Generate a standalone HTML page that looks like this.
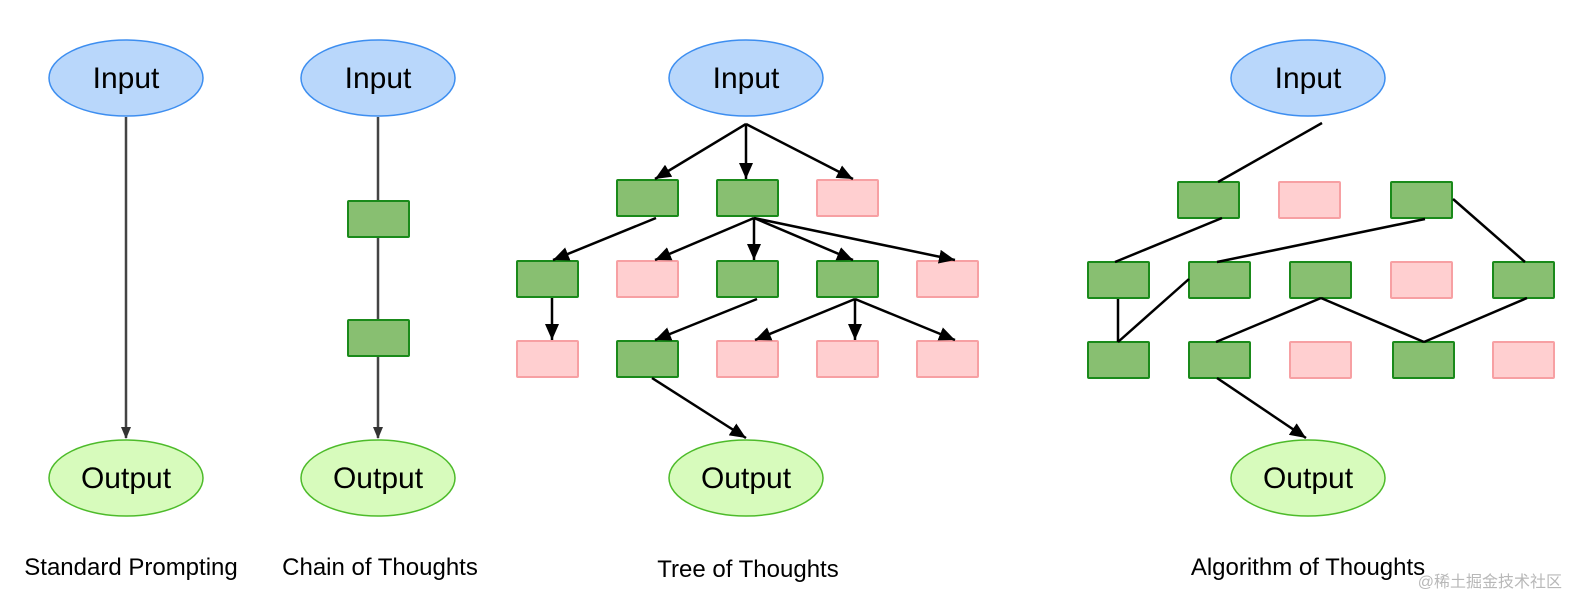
<!DOCTYPE html>
<html><head><meta charset="utf-8"><style>
body{margin:0;background:#fff;width:1582px;height:602px;overflow:hidden}
text{font-family:"Liberation Sans","Noto Sans CJK SC",sans-serif}
</style></head><body>
<svg width="1582" height="602" viewBox="0 0 1582 602" xmlns="http://www.w3.org/2000/svg">
<defs>
<marker id="g" markerWidth="12" markerHeight="12" refX="11" refY="6" orient="auto" markerUnits="userSpaceOnUse" viewBox="0 0 12 12"><path d="M0,1 L12,6 L0,11 z" fill="#333"/></marker>
<marker id="b" markerWidth="16" markerHeight="14" refX="16" refY="7" orient="auto" markerUnits="userSpaceOnUse" viewBox="0 0 16 14"><path d="M0,0 L16,7 L0,14 z" fill="#000"/></marker>
</defs>
<g fill="#b9d7fb" stroke="#3d8ef0" stroke-width="1.5">
<ellipse cx="126" cy="78" rx="77" ry="38"/><ellipse cx="378" cy="78" rx="77" ry="38"/>
<ellipse cx="746" cy="78" rx="77" ry="38"/><ellipse cx="1308" cy="78" rx="77" ry="38"/>
</g>
<g fill="#d7fbbc" stroke="#4dbb2a" stroke-width="1.5">
<ellipse cx="126" cy="478" rx="77" ry="38"/><ellipse cx="378" cy="478" rx="77" ry="38"/>
<ellipse cx="746" cy="478" rx="77" ry="38"/><ellipse cx="1308" cy="478" rx="77" ry="38"/>
</g>
<g font-size="30" text-anchor="middle" fill="#000">
<text x="126" y="88">Input</text><text x="378" y="88">Input</text><text x="746" y="88">Input</text><text x="1308" y="88">Input</text>
<text x="126" y="488">Output</text><text x="378" y="488">Output</text><text x="746" y="488">Output</text><text x="1308" y="488">Output</text>
</g>
<g stroke="#444" stroke-width="2.5" fill="none">
<line x1="126" y1="117" x2="126" y2="438" marker-end="url(#g)"/>
<line x1="378" y1="117" x2="378" y2="201"/><line x1="378" y1="237" x2="378" y2="320"/>
<line x1="378" y1="356" x2="378" y2="438" marker-end="url(#g)"/>
</g>
<g fill="#88bf71" stroke="#1a8a1a" stroke-width="2">
<rect x="348" y="201" width="61" height="36" rx="1"/><rect x="348" y="320" width="61" height="36" rx="1"/>
<rect x="617" y="180" width="61" height="36" rx="1"/><rect x="717" y="180" width="61" height="36" rx="1"/>
<rect x="517" y="261" width="61" height="36" rx="1"/><rect x="717" y="261" width="61" height="36" rx="1"/><rect x="817" y="261" width="61" height="36" rx="1"/>
<rect x="617" y="341" width="61" height="36" rx="1"/>
<rect x="1178" y="182" width="61" height="36" rx="1"/><rect x="1391" y="182" width="61" height="36" rx="1"/>
<rect x="1088" y="262" width="61" height="36" rx="1"/><rect x="1189" y="262" width="61" height="36" rx="1"/><rect x="1290" y="262" width="61" height="36" rx="1"/><rect x="1493" y="262" width="61" height="36" rx="1"/>
<rect x="1088" y="342" width="61" height="36" rx="1"/><rect x="1189" y="342" width="61" height="36" rx="1"/><rect x="1393" y="342" width="61" height="36" rx="1"/>
</g>
<g fill="#ffcfd0" stroke="#f7a0a3" stroke-width="2">
<rect x="817" y="180" width="61" height="36" rx="1"/>
<rect x="617" y="261" width="61" height="36" rx="1"/><rect x="917" y="261" width="61" height="36" rx="1"/>
<rect x="517" y="341" width="61" height="36" rx="1"/><rect x="717" y="341" width="61" height="36" rx="1"/><rect x="817" y="341" width="61" height="36" rx="1"/><rect x="917" y="341" width="61" height="36" rx="1"/>
<rect x="1279" y="182" width="61" height="36" rx="1"/>
<rect x="1391" y="262" width="61" height="36" rx="1"/>
<rect x="1290" y="342" width="61" height="36" rx="1"/><rect x="1493" y="342" width="61" height="36" rx="1"/>
</g>
<g stroke="#000" stroke-width="2.5" fill="none">
<line x1="746" y1="124" x2="655" y2="179" marker-end="url(#b)"/>
<line x1="746" y1="124" x2="746" y2="179" marker-end="url(#b)"/>
<line x1="746" y1="124" x2="853" y2="179" marker-end="url(#b)"/>
<line x1="656" y1="218" x2="553" y2="260" marker-end="url(#b)"/>
<line x1="754" y1="218" x2="655" y2="260" marker-end="url(#b)"/>
<line x1="754" y1="218" x2="754" y2="260" marker-end="url(#b)"/>
<line x1="754" y1="218" x2="853" y2="260" marker-end="url(#b)"/>
<line x1="754" y1="218" x2="955" y2="260" marker-end="url(#b)"/>
<line x1="552" y1="298" x2="552" y2="340" marker-end="url(#b)"/>
<line x1="757" y1="299" x2="655" y2="340" marker-end="url(#b)"/>
<line x1="855" y1="299" x2="755" y2="340" marker-end="url(#b)"/>
<line x1="855" y1="299" x2="855" y2="340" marker-end="url(#b)"/>
<line x1="855" y1="299" x2="955" y2="340" marker-end="url(#b)"/>
<line x1="652" y1="378" x2="746" y2="438" marker-end="url(#b)"/>
<line x1="1322" y1="123" x2="1218" y2="182"/>
<line x1="1222" y1="218" x2="1115" y2="262"/>
<line x1="1425" y1="219" x2="1217" y2="262"/>
<line x1="1453" y1="199" x2="1525" y2="262"/>
<line x1="1189" y1="279" x2="1118" y2="342"/>
<line x1="1118" y1="342" x2="1118" y2="299"/>
<line x1="1321" y1="298" x2="1216" y2="342"/>
<line x1="1321" y1="298" x2="1424" y2="342"/>
<line x1="1527" y1="298" x2="1424" y2="342"/>
<line x1="1217" y1="378" x2="1306" y2="438" marker-end="url(#b)"/>
</g>
<g font-size="24" text-anchor="middle" fill="#000">
<text x="131" y="575">Standard Prompting</text>
<text x="380" y="575">Chain of Thoughts</text>
<text x="748" y="577">Tree of Thoughts</text>
<text x="1308" y="575">Algorithm of Thoughts</text>
</g>
<text x="1562" y="587" font-size="16" text-anchor="end" fill="#b8b8b8">@稀土掘金技术社区</text>
</svg>
</body></html>
